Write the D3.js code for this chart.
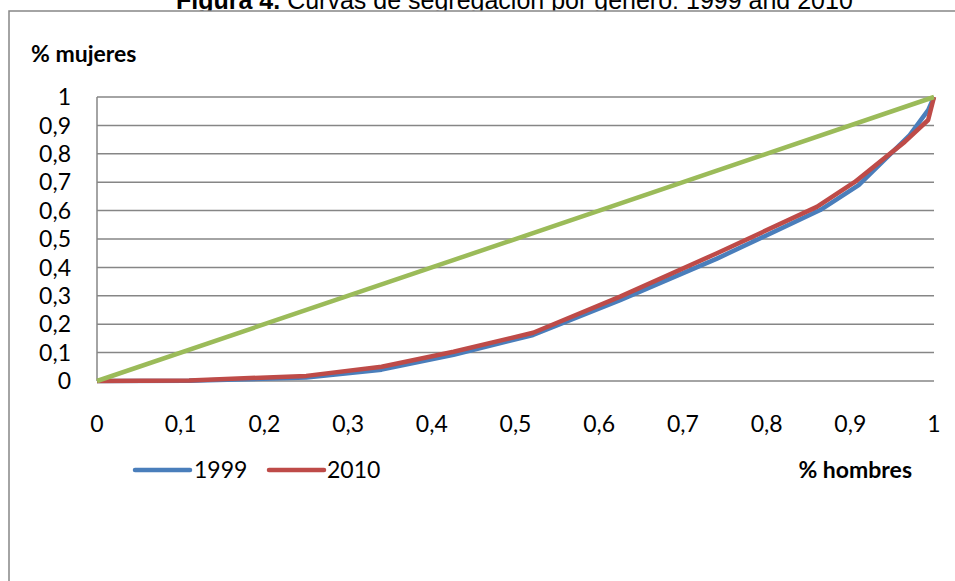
<!DOCTYPE html>
<html>
<head>
<meta charset="utf-8">
<script src="https://cdn.jsdelivr.net/npm/d3@7"></script>
<style>
  html, body { margin: 0; padding: 0; background: #fff; }
  svg { display: block; }
</style>
</head>
<body>
<svg id="chart" width="955" height="581"></svg>
<script>
// Segregation curves: cumulative share of men (x) vs cumulative share of women (y)
const hombres1999 = [0, 0.11, 0.25, 0.34, 0.426, 0.521, 0.625, 0.74, 0.864, 0.91, 0.971, 0.993, 1];
const mujeres1999 = [0, 0.001, 0.012, 0.04, 0.092, 0.162, 0.285, 0.43, 0.602, 0.69, 0.866, 0.954, 1];
const hombres2010 = [0, 0.11, 0.25, 0.34, 0.426, 0.521, 0.625, 0.74, 0.86, 0.905, 0.965, 0.993, 1];
const mujeres2010 = [0, 0.002, 0.018, 0.05, 0.103, 0.170, 0.297, 0.449, 0.613, 0.70, 0.842, 0.919, 1];
// Line of perfect equality
const igualdadX = [0, 1];
const igualdadY = [0, 1];

const xTicks = [0, 0.1, 0.2, 0.3, 0.4, 0.5, 0.6, 0.7, 0.8, 0.9, 1];
const yTicks = [0, 0.1, 0.2, 0.3, 0.4, 0.5, 0.6, 0.7, 0.8, 0.9, 1];
const seriesNames = ["1999", "2010"];

const colors = { s1999: "#4a7ebb", s2010: "#be4b48", eq: "#9bbb59", grid: "#868686" };
const labelFont = "Lato, 'Open Sans', sans-serif";
const labelSize = 23;
const fmt = v => String(v).replace(".", ",");

const svg = d3.select("#chart");

// Title (sits just above the chart frame, partly above the page top)
const title = svg.append("text")
  .attr("x", 176).attr("y", 9)
  .attr("font-family", "'Liberation Sans', Arial, sans-serif")
  .attr("font-size", 25).attr("fill", "#000");
title.append("tspan").attr("font-weight", "bold").text("Figura 4.");
title.append("tspan").text(" Curvas de segregación por género: 1999 and 2010");

// Chart frame
svg.append("rect")
  .attr("x", 9).attr("y", 11).attr("width", 1000).attr("height", 640)
  .attr("fill", "#fff").attr("stroke", colors.grid).attr("stroke-width", 1.5);

const x = d3.scaleLinear().domain([0, 1]).range([97, 934]);
const y = d3.scaleLinear().domain([0, 1]).range([381, 97]);

// Horizontal gridlines
svg.append("g").selectAll("line").data(yTicks).join("line")
  .attr("x1", x(0)).attr("x2", x(1))
  .attr("y1", d => y(d)).attr("y2", d => y(d))
  .attr("stroke", colors.grid).attr("stroke-width", 1.5);

// Vertical axis line
svg.append("line")
  .attr("x1", x(0)).attr("x2", x(0)).attr("y1", y(0)).attr("y2", y(1))
  .attr("stroke", colors.grid).attr("stroke-width", 1.5);

// Y tick labels
svg.append("g").selectAll("text").data(yTicks).join("text")
  .attr("x", 71).attr("y", d => y(d)).attr("dy", "0.36em")
  .attr("text-anchor", "end")
  .attr("font-family", labelFont).attr("font-size", labelSize).attr("fill", "#000")
  .text(fmt);

// X tick labels
svg.append("g").selectAll("text").data(xTicks).join("text")
  .attr("x", d => x(d)).attr("y", 432)
  .attr("text-anchor", "middle")
  .attr("font-family", labelFont).attr("font-size", labelSize).attr("fill", "#000")
  .text(fmt);

// Axis titles
svg.append("text").attr("x", 31).attr("y", 62)
  .attr("font-family", labelFont).attr("font-size", labelSize).attr("font-weight", "bold")
  .text("% mujeres");
svg.append("text").attr("x", 912).attr("y", 478).attr("text-anchor", "end")
  .attr("font-family", labelFont).attr("font-size", labelSize).attr("font-weight", "bold")
  .text("% hombres");

const line = d3.line().x(d => x(d[0])).y(d => y(d[1]));
const zip = (a, b) => a.map((v, i) => [v, b[i]]);

const series = [
  { pts: zip(hombres1999, mujeres1999), color: colors.s1999 },
  { pts: zip(hombres2010, mujeres2010), color: colors.s2010 },
  { pts: zip(igualdadX, igualdadY), color: colors.eq }
];

svg.append("g").selectAll("path").data(series).join("path")
  .attr("d", d => line(d.pts))
  .attr("fill", "none")
  .attr("stroke", d => d.color)
  .attr("stroke-width", 4.5)
  .attr("stroke-linejoin", "round");

// Legend
const legend = [
  { name: seriesNames[0], color: colors.s1999, x0: 135, x1: 190, tx: 194 },
  { name: seriesNames[1], color: colors.s2010, x0: 269, x1: 324, tx: 327 }
];
const lg = svg.append("g").selectAll("g").data(legend).join("g");
lg.append("line")
  .attr("x1", d => d.x0).attr("x2", d => d.x1).attr("y1", 470).attr("y2", 470)
  .attr("stroke", d => d.color).attr("stroke-width", 4.5).attr("stroke-linecap", "round");
lg.append("text")
  .attr("x", d => d.tx).attr("y", 470).attr("dy", "0.36em")
  .attr("font-family", labelFont).attr("font-size", labelSize).attr("fill", "#000")
  .text(d => d.name);
</script>
</body>
</html>
